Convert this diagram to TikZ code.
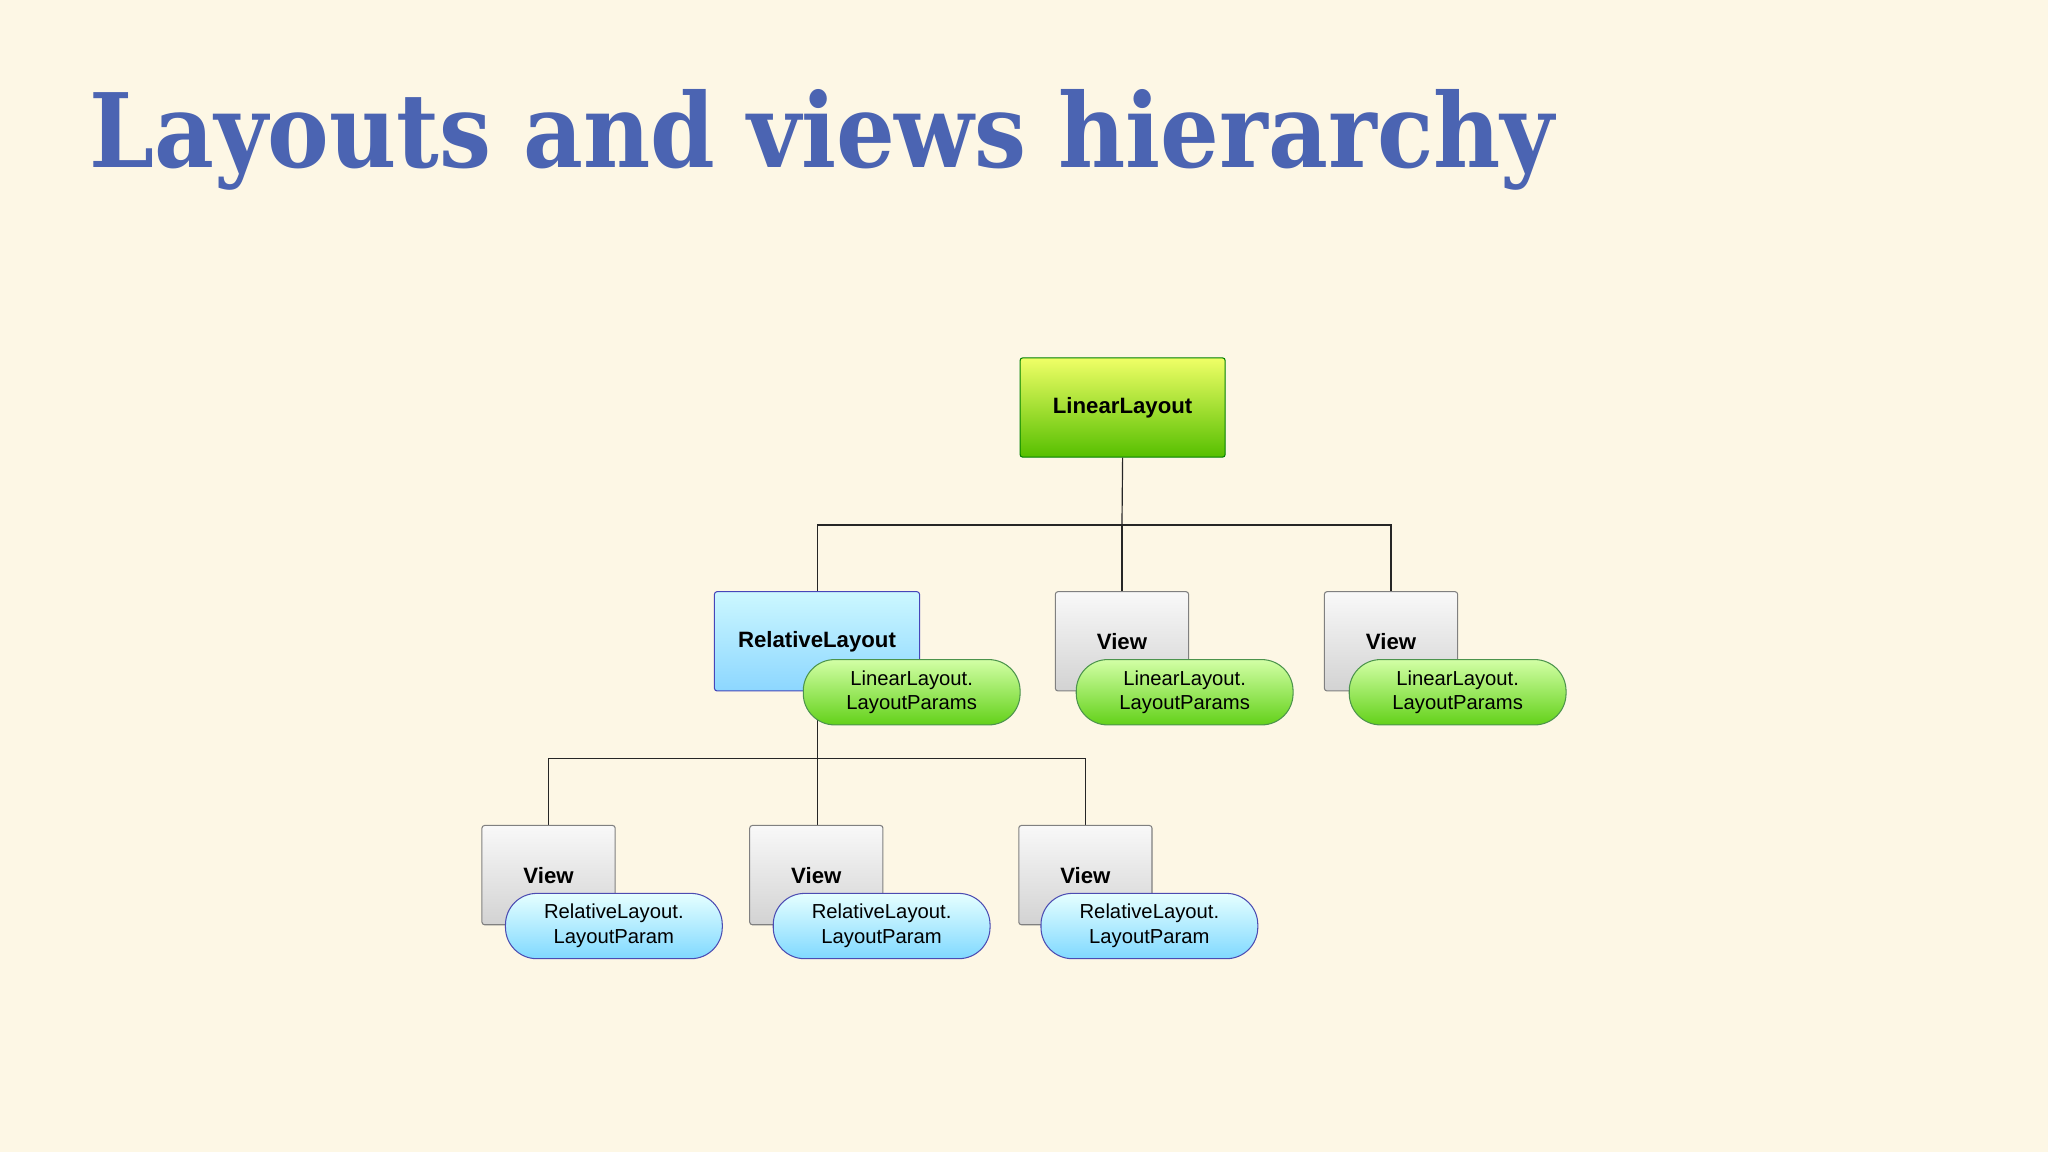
\documentclass[tikz,border=0pt]{standalone}
\usepackage{fontspec}
\setmainfont{Liberation Sans}
\newfontfamily\titlefont{DejaVu Serif Condensed}
\definecolor{bg}{HTML}{FDF7E5}
\definecolor{titleblue}{HTML}{4B64B2}
\begin{document}
\begin{tikzpicture}[x=1pt,y=-1pt,
  gbox/.style={draw=green!50!black, line width=0.8pt, rounded corners=2pt, top color=green!10!yellow!60!white, bottom color=green!55!yellow!75!black, minimum width=157pt, minimum height=76pt},
  bbox/.style={draw=blue!45!gray, line width=0.8pt, rounded corners=2pt, top color=blue!15!cyan!20!white, bottom color=blue!35!cyan!45!white, minimum width=157pt, minimum height=76pt},
  vbox/.style={draw=gray, line width=0.8pt, rounded corners=2pt, top color=gray!5, bottom color=gray!35, minimum width=102pt, minimum height=76pt},
  lbl/.style={font=\fontsize{17}{19}\selectfont\bfseries, text=black},
  pill/.style={rounded corners=24pt, line width=0.8pt, minimum width=166pt, minimum height=50pt, align=center, font=\fontsize{15.5}{19}\selectfont, inner sep=0pt},
  gpill/.style={pill, draw=green!40!black!70, top color=yellow!50!green!35!white, bottom color=yellow!40!green!80!black!90},
  bpill/.style={pill, draw=blue!40!gray, top color=cyan!10!white, bottom color=blue!30!cyan!50!white},
  conn/.style={draw=black!85, line width=0.9pt}]
\fill[bg] (0,0) rectangle (1568,882);
\useasboundingbox (0,0) rectangle (1568,882);
\node[anchor=base west, inner sep=0pt, text=titleblue] (title) at (68,128)
  {\resizebox{1122pt}{!}{\titlefont\bfseries Layouts and views hierarchy}};
\coordinate (j1) at (859,402);
\coordinate (j2) at (626,581);
\node[gbox, lbl] (L) at (859.5,312) {LinearLayout};
\draw[conn] (L.south) -- (j1);
\draw[conn] (j1) -| (626,453);
\draw[conn] (j1) -| (1065,453);
\draw[conn] (j1) -- (859,453);
\draw[conn] (626,529) -- (j2);
\draw[conn] (j2) -| (420,632);
\draw[conn] (j2) -| (831,632);
\draw[conn] (j2) -- (626,632);
\node[bbox] (R) at (625.5,491) {};
\node[lbl] (Rt) at (625.5,491) {RelativeLayout};
\node[vbox] (V1) at (859,491) {};
\node[lbl] (V1t) at (859,491) {View};
\node[vbox] (V2) at (1065,491) {};
\node[lbl] (V2t) at (1065,491) {View};
\node[gpill] (P0) at (698,530) {LinearLayout.\\LayoutParams};
\node[gpill] (P1) at (907,530) {LinearLayout.\\LayoutParams};
\node[gpill] (P2) at (1116,530) {LinearLayout.\\LayoutParams};
\node[vbox] (W1) at (420,670) {};
\node[lbl] (W1t) at (420,670) {View};
\node[vbox] (W2) at (625,670) {};
\node[lbl] (W2t) at (625,670) {View};
\node[vbox] (W3) at (831,670) {};
\node[lbl] (W3t) at (831,670) {View};
\node[bpill] (Q1) at (470,709) {RelativeLayout.\\LayoutParam};
\node[bpill] (Q2) at (675,709) {RelativeLayout.\\LayoutParam};
\node[bpill] (Q3) at (880,709) {RelativeLayout.\\LayoutParam};
\end{tikzpicture}
\end{document}
